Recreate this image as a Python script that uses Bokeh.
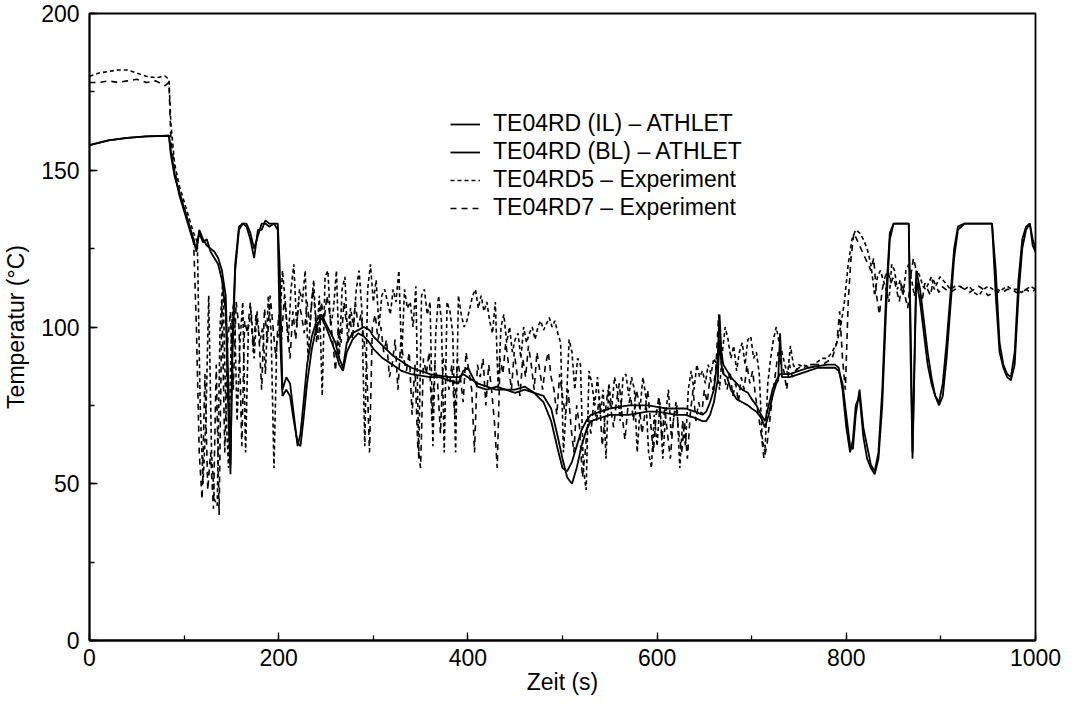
from bokeh.plotting import figure
from bokeh.models import Range1d, SingleIntervalTicker, Legend, LegendItem
from bokeh.embed import file_html
from bokeh.resources import INLINE

# ---------------- data ----------------
t_il = [0,20,40,60,84,86,90,95,100,105,110,113,116,120,124,128,132,136,140,144,147,149,151,154,158,162,166,170,174,178,182,186,190,195,199,201,204,208,212,216,220,223,226,230,235,240,245,250,255,260,264,268,272,278,284,290,296,300,310,320,330,340,350,360,370,380,390,395,400,405,410,420,430,440,450,460,470,480,488,495,500,505,510,515,520,525,530,540,550,560,570,580,590,600,610,620,630,640,648,652,656,660,664,666,668,670,674,678,684,690,696,700,705,710,714,718,722,726,728,730,732,740,750,760,770,780,788,792,796,800,804,807,810,814,818,822,826,830,834,838,842,846,850,855,860,864,866,868,870,874,878,882,886,890,894,898,902,906,910,914,918,925,935,945,950,954,958,962,966,970,974,978,982,986,990,994,997,1000]
v_il = [158,159.5,160.3,160.8,161,155,148,143,138,133,128,124,131,128,126,125,124,122,118,110,80,53,95,120,132,133,133,130,125,129,133,133,132,133,133,120,80,84,82,72,62,66,75,88,97,102,104,101,98,95,90,87,95,98,99,100,99,97,94,91,89,87,86,85,84.5,84,84,85,84,83,82,81,80,80,79,80,79,78,74,65,58,52,50,55,62,67,70,71,72,72,72,72.5,73,73,72.5,72,72,71,70,70,72,76,83,96,88,85,84,80,77,76,75,74,73,71,68,72,78,82,83,98,84,84,85,86,87,87,87,86,82,72,62,61,72,80,68,62,56,54,60,80,110,130,133,133,133,133,133,100,60,118,112,102,92,84,78,76,82,95,110,125,132,133,133,133,133,133,118,95,88,85,84,92,115,128,132,133,128,125,133]

t_bl = t_il
v_bl = [158,159.5,160.3,160.8,161,156,149,142,137,132,127,125,130,127,128,124,122,120,115,105,70,56,90,118,131,133,132,128,122,131,131,134,133,133,131,100,78,80,78,70,63,62,70,82,93,100,103,100,96,92,88,86,92,96,98,97,95,93,90,88,86,85,84.5,84,84,83,82,86,87,84,81,80,81,80,80,81,79,76,70,61,55,54,57,62,67,70,72,73,74,74.5,75,75,75,74.5,74,74,74,73,72,73,76,80,90,104,92,88,86,84,82,80,79,77,75,72,70,75,80,83,84,85,85,85,86,87,87.5,88,88,87,80,68,60,64,75,78,65,58,55,53,58,75,105,128,133,133,133,133,133,90,58,115,108,98,88,82,78,75,78,90,106,122,131,133,133,133,133,133,110,92,87,84,83,88,110,125,131,133,126,124,133]

t_rd5 = [0,10,20,30,40,50,60,70,80,84,86,90,95,100,105,110,114,117,120,123,126,129,132,135,138,141,144,147,150,153,156,159,162,165,168,171,174,177,180,183,186,189,192,195,198,201,204,207,210,213,216,219,222,225,228,231,234,237,240,243,246,249,252,255,258,261,264,267,270,273,276,279,282,285,288,291,294,297,300,303,306,309,312,315,318,321,324,327,330,333,336,339,342,345,348,351,354,357,360,363,366,369,372,375,378,381,384,387,390,393,396,399,402,405,408,411,414,417,420,423,426,429,432,435,438,441,444,447,450,453,456,459,462,465,468,471,474,477,480,483,486,489,492,495,498,501,504,507,510,513,516,519,522,525,528,531,534,537,540,543,546,549,552,555,558,561,564,567,570,573,576,579,582,585,588,591,594,597,600,603,606,609,612,615,618,621,624,627,630,633,636,639,642,645,648,651,654,657,660,663,666,669,672,675,678,681,684,687,690,693,696,699,702,705,708,711,714,717,720,723,726,729,732,735,738,741,744,747,750,755,760,765,770,775,780,785,790,794,798,802,806,810,814,818,822,826,830,833,836,839,842,845,848,851,854,857,860,863,866,869,872,875,878,881,884,887,890,893,896,899,902,905,910,915,920,925,930,935,940,945,950,955,960,965,970,975,980,985,990,995,1000]
v_rd5 = [180,181,181.5,182,182,181,180,179.5,180,179,165,152,145,140,135,130,127,75,50,70,110,60,45,43,100,115,75,55,100,110,70,95,108,60,100,105,90,105,95,100,85,110,98,55,95,100,118,108,95,112,120,100,112,108,118,90,105,115,95,110,78,116,118,100,106,118,90,112,116,95,106,100,112,118,105,62,112,120,108,115,100,110,112,108,104,112,108,118,90,112,106,108,100,113,58,110,112,104,108,62,98,110,102,60,108,105,98,60,110,104,100,102,106,110,112,106,110,105,108,102,98,108,80,100,104,95,100,92,96,98,90,100,95,98,100,96,100,102,99,101,103,100,102,98,95,60,75,96,92,80,90,88,55,48,86,82,75,84,72,80,58,82,74,84,80,70,84,85,78,84,80,60,74,84,78,60,55,72,62,76,58,72,80,65,72,75,55,70,62,80,86,80,88,84,86,82,88,85,90,88,80,92,100,96,90,94,86,92,95,88,96,97,90,92,85,65,60,82,90,96,100,95,92,88,85,94,88,86,88,87,88,88,89,90,90,92,95,100,108,120,128,131,130,128,125,120,110,116,118,115,112,108,120,118,112,115,110,118,120,115,110,118,116,113,112,114,116,112,114,116,115,114,112,113,113,112,113,111,110,112,113,112,111,112,113,112,112,111,112,113,112]

t_rd7 = [0,10,20,30,40,50,60,70,80,84,86,90,95,100,105,110,113,116,119,122,125,128,131,134,137,140,143,146,149,152,155,158,161,164,167,170,173,176,179,182,185,188,191,194,197,200,203,206,209,212,215,218,221,224,227,230,233,236,239,242,245,248,251,254,257,260,263,266,269,272,275,278,281,284,287,290,293,296,299,302,305,308,311,314,317,320,323,326,329,332,335,338,341,344,347,350,353,356,359,362,365,368,371,374,377,380,383,386,389,392,395,398,401,404,407,410,413,416,419,422,425,428,431,434,437,440,443,446,449,452,455,458,461,464,467,470,473,476,479,482,485,488,491,494,497,500,503,506,509,512,515,518,521,524,527,530,533,536,539,542,545,548,551,554,557,560,563,566,569,572,575,578,581,584,587,590,593,596,599,602,605,608,611,614,617,620,623,626,629,632,635,638,641,644,647,650,653,656,659,662,665,668,671,674,677,680,683,686,689,692,695,698,701,704,707,710,713,716,719,722,725,728,731,734,737,740,743,746,750,755,760,765,770,775,780,785,790,793,796,799,802,805,808,811,814,817,820,823,826,829,832,835,838,841,844,847,850,853,856,859,862,865,868,871,874,877,880,883,886,889,892,895,898,901,905,910,915,920,925,930,935,940,945,950,955,960,965,970,975,980,985,990,995,1000]
v_rd7 = [178,178,178.5,178,178.5,179,178,178.5,177,178,160,150,143,138,132,128,100,60,45,85,48,60,42,88,40,108,60,95,105,80,108,100,62,102,98,108,92,104,98,80,106,95,110,100,90,104,96,110,100,90,105,96,108,104,98,108,100,112,104,96,108,102,110,104,96,86,100,95,108,100,104,96,108,100,104,96,88,60,100,104,96,100,92,96,84,88,96,80,95,90,86,92,72,88,62,55,90,85,92,70,88,82,66,90,86,80,88,72,90,84,76,92,86,80,60,88,84,90,75,88,80,70,55,90,85,95,88,80,92,85,78,90,84,94,88,80,92,86,80,88,92,84,80,72,85,78,72,80,68,60,75,68,52,60,72,66,76,70,78,62,72,80,74,68,76,82,72,64,74,78,70,80,76,66,72,80,70,60,72,78,64,74,66,58,70,76,66,60,70,58,72,80,70,76,72,80,76,84,80,86,104,90,84,80,86,78,82,76,84,80,88,82,86,78,72,66,58,62,70,78,85,92,88,86,80,88,84,86,87,88,87,88,88,88,89,90,95,105,90,80,108,122,130,128,126,124,122,120,118,122,110,104,112,116,118,114,116,112,108,114,110,106,116,122,118,112,108,114,112,110,115,113,111,113,112,111,112,113,112,111,112,113,112,110,111,112,111,112,112,111,111,112,111,112]

x_ticks_interval = 200
y_ticks_interval = 50
labels = ["TE04RD (IL) \u2013 ATHLET", "TE04RD (BL) \u2013 ATHLET",
          "TE04RD5 \u2013 Experiment", "TE04RD7 \u2013 Experiment"]

FONT = "Liberation Sans"

p = figure(width=1064, height=700, output_backend="svg", toolbar_location=None,
           x_range=Range1d(0, 1000), y_range=Range1d(0, 200),
           min_border_left=84, min_border_right=29, min_border_top=13, min_border_bottom=60)

r1 = p.line(t_il, v_il, line_color="black", line_width=1.8)
r2 = p.line(t_bl, v_bl, line_color="black", line_width=1.8)
r3 = p.line(t_rd5, v_rd5, line_color="black", line_width=1.6, line_dash="4 3")
r4 = p.line(t_rd7, v_rd7, line_color="black", line_width=1.6, line_dash="6 5")

p.xgrid.visible = False
p.ygrid.visible = False
p.outline_line_color = "black"
p.outline_line_width = 1.8
p.background_fill_color = "white"
p.border_fill_color = "white"

p.xaxis.ticker = SingleIntervalTicker(interval=x_ticks_interval, num_minor_ticks=2)
p.yaxis.ticker = SingleIntervalTicker(interval=y_ticks_interval, num_minor_ticks=2)
for ax in (p.xaxis[0], p.yaxis[0]):
    ax.major_tick_in = 8
    ax.major_tick_out = 0
    ax.minor_tick_in = 5
    ax.minor_tick_out = 0
    ax.axis_line_width = 1.8
    ax.major_tick_line_width = 1.3
    ax.minor_tick_line_width = 1.3
    ax.major_label_text_font = FONT
    ax.major_label_text_font_size = "23px"
    ax.major_label_text_color = "black"
    ax.axis_label_text_font = FONT
    ax.axis_label_text_font_size = "23px"
    ax.axis_label_text_font_style = "normal"
    ax.axis_label_text_color = "black"

p.xaxis.axis_label = "Zeit (s)"
p.yaxis.axis_label = "Temperatur (\u00b0C)"
p.xaxis.major_label_standoff = 8
p.yaxis.major_label_standoff = 10
p.xaxis.axis_label_standoff = 0
p.yaxis.axis_label_standoff = 9

legend = Legend(items=[LegendItem(label=labels[0], renderers=[r1]),
                       LegendItem(label=labels[1], renderers=[r2]),
                       LegendItem(label=labels[2], renderers=[r3]),
                       LegendItem(label=labels[3], renderers=[r4])],
                location=(361, 419), glyph_width=30, glyph_height=26,
                label_height=26, label_standoff=13, spacing=1, padding=0, margin=0,
                label_text_font=FONT, label_text_font_size="23px",
                label_text_color="black",
                border_line_alpha=0, background_fill_alpha=0)
p.add_layout(legend)

open("out.html", "w").write(file_html(p, INLINE))
